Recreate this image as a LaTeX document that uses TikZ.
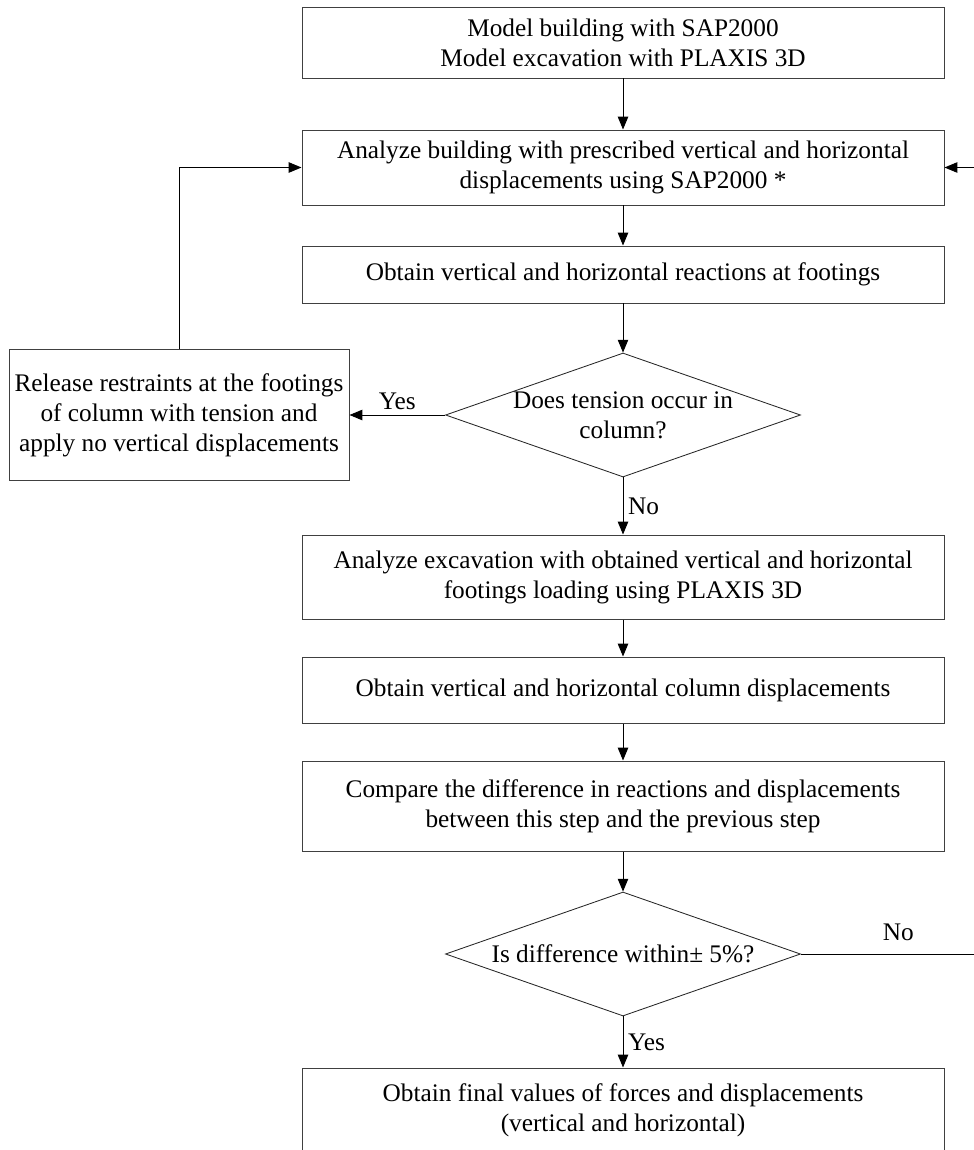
\documentclass[tikz,border=0pt]{standalone}
\usepackage{fontspec}
\setmainfont{Liberation Serif}
\usetikzlibrary{shapes.geometric,arrows.meta}
\tikzset{
  stepbox/.style = {draw=black!75, line width=0.7pt, rectangle, align=center,
    minimum width=16.05cm, inner sep=2pt},
  decision/.style = {draw=black!85, line width=0.6pt, diamond, aspect=2.86, align=center,
    minimum width=8.875cm, minimum height=3.1cm, inner sep=-0.5cm},
  flow/.style = {line width=0.7pt, -{Triangle[length=3.2mm,width=2.6mm]}}
}
\begin{document}
\begin{tikzpicture}[node distance = 3cm, auto, font=\fontsize{18}{21.3}\selectfont]
     \useasboundingbox (0,0) rectangle (24.325,-28.75);
     % the nodes
     \node (model) [stepbox, minimum height=1.775cm] at (15.575,-1.0625)
       {Model building with SAP2000\\Model excavation with PLAXIS 3D};
     \node (analyze building) [stepbox, minimum height=1.875cm, below of = model, node distance = 3.125cm]
       {Analyze building with prescribed vertical and horizontal\\displacements using SAP2000 *};
     \node (reactions) [stepbox, minimum height=1.425cm, below of = analyze building, node distance = 2.675cm]
       {Obtain vertical and horizontal reactions at footings};
     \node (tension) [decision, below of = reactions, node distance = 3.5125cm]
       {Does tension occur in\\column?};
     \node (release) [stepbox, minimum width=8.5cm, minimum height=3.275cm, left of = tension, node distance = 11.1cm]
       {Release restraints at the footings\\of column with tension and\\apply no vertical displacements};
     \node (analyze excavation) [stepbox, minimum height=2.1cm, below of = tension, node distance = 4.05cm]
       {Analyze excavation with obtained vertical and horizontal\\footings loading using PLAXIS 3D};
     \node (displacements) [stepbox, minimum height=1.65cm, below of = analyze excavation, node distance = 2.825cm]
       {Obtain vertical and horizontal column displacements};
     \node (compare) [stepbox, minimum height=2.25cm, below of = displacements, node distance = 2.9cm]
       {Compare the difference in reactions and displacements\\between this step and the previous step};
     \node (difference) [decision, below of = compare, node distance = 3.7cm]
       {Is difference within± 5\%?};
     \node (final) [stepbox, minimum height=2.1cm, below of = difference, node distance = 3.9cm]
       {Obtain final values of forces and displacements\\(vertical and horizontal)};
     \coordinate (loop back) at ([xshift=4.875cm]difference.east);
     % the arrows
     \draw[flow] (model) to (analyze building);
     \draw[flow] (analyze building) to (reactions);
     \draw[flow] (reactions) to (tension);
     \draw[flow] (tension.west) to node [above] {Yes} (release.east);
     \draw[flow] (release.north) |- (analyze building.west);
     \draw[flow] (tension) to node {No} (analyze excavation);
     \draw[flow] (analyze excavation) to (displacements);
     \draw[flow] (displacements) to (compare);
     \draw[flow] (compare) to (difference);
     \draw[line width=0.7pt] (difference.east) to node [above, yshift=0.2cm] {No} (loop back);
     \draw[flow] (loop back) |- (analyze building.east);
     \draw[flow] (difference) to node {Yes} (final);
\end{tikzpicture}
\end{document}
